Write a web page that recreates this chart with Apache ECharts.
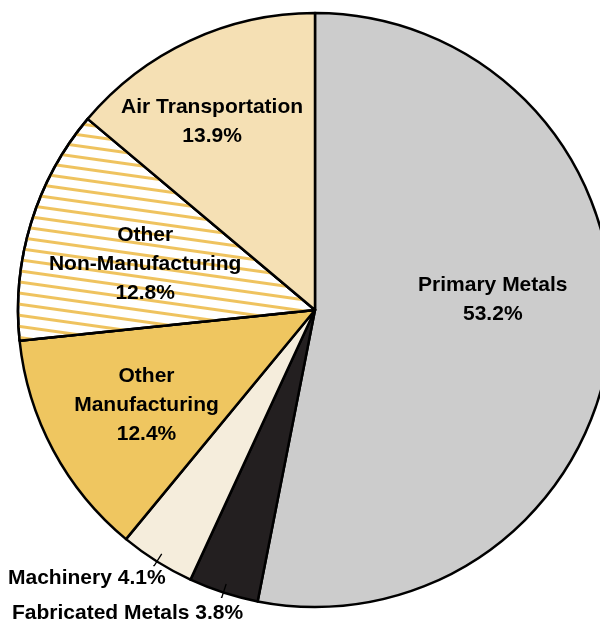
<!DOCTYPE html>
<html>
<head>
<meta charset="utf-8">
<script src="https://cdn.jsdelivr.net/npm/echarts@6/dist/echarts.min.js"></script>
<style>
  html, body { margin: 0; padding: 0; background: #fff; }
  #main { width: 600px; height: 625px; }
</style>
</head>
<body>
<div id="main"></div>
<script>
var categories = ['Primary Metals', 'Fabricated Metals', 'Machinery', 'Other\nManufacturing', 'Other\nNon-Manufacturing', 'Air Transportation'];
var values = [53.2, 3.8, 4.1, 12.4, 12.8, 13.9];
var colors = ['#cccccc', '#231f20', '#f5eddc', '#efc660', '#ffffff', '#f5e0b4'];
var outside = [false, true, true, false, false, false];

// nudges for the labels placed inside the slices
var innerShift = [[27, -25], [0, 0], [0, 0], [-35, 24], [-25, -1], [-39, -51]];
// text anchors of the two small outside labels
var outsidePos = {1: [12, 613], 2: [8, 578]};

var chart = echarts.init(document.getElementById('main'));

var data = categories.map(function (name, i) {
    var item = {
        name: name,
        value: values[i],
        itemStyle: {color: colors[i]}
    };
    if (i === 4) {
        item.itemStyle.decal = {
            symbol: 'rect',
            symbolSize: 1,
            dashArrayX: [1, 0],
            dashArrayY: [2.5, 8],
            rotation: 0.14,
            color: '#efc35f'
        };
    }
    if (outside[i]) {
        item.label = {formatter: '{b} {c}%'};
    }
    return item;
});

// same slices again, invisible, only to carry the short leader ticks
var tickData = categories.map(function (name, i) {
    return {
        name: name,
        value: values[i],
        label: {show: outside[i]},
        labelLine: {show: outside[i]}
    };
});

var option = {
    animation: false,
    series: [{
        type: 'pie',
        center: [315, 310],
        radius: 297,
        startAngle: 90,
        clockwise: true,
        avoidLabelOverlap: false,
        itemStyle: {borderColor: '#000', borderWidth: 2.5},
        label: {
            position: 'inside',
            formatter: '{b}\n{c}%',
            color: '#000',
            fontFamily: 'Liberation Sans, Arial, sans-serif',
            fontWeight: 'bold',
            fontSize: 21,
            lineHeight: 29,
            align: 'center'
        },
        labelLine: {show: false},
        emphasis: {disabled: true},
        labelLayout: function (params) {
            var i = params.dataIndex;
            if (outsidePos[i]) {
                return {
                    x: outsidePos[i][0],
                    y: outsidePos[i][1],
                    align: 'left',
                    verticalAlign: 'middle'
                };
            }
            return {dx: innerShift[i][0], dy: innerShift[i][1]};
        },
        data: data
    }, {
        type: 'pie',
        silent: true,
        z: 5,
        center: [315, 310],
        radius: 288,
        startAngle: 90,
        clockwise: true,
        avoidLabelOverlap: false,
        itemStyle: {color: 'rgba(0,0,0,0)', borderWidth: 0},
        label: {position: 'outside', formatter: '{b}', color: 'rgba(0,0,0,0)', fontSize: 12},
        labelLine: {
            showAbove: true,
            length: 14,
            length2: 1,
            lineStyle: {color: '#000', width: 1.3}
        },
        emphasis: {disabled: true},
        data: tickData
    }]
};
chart.setOption(option);
</script>
</body>
</html>
